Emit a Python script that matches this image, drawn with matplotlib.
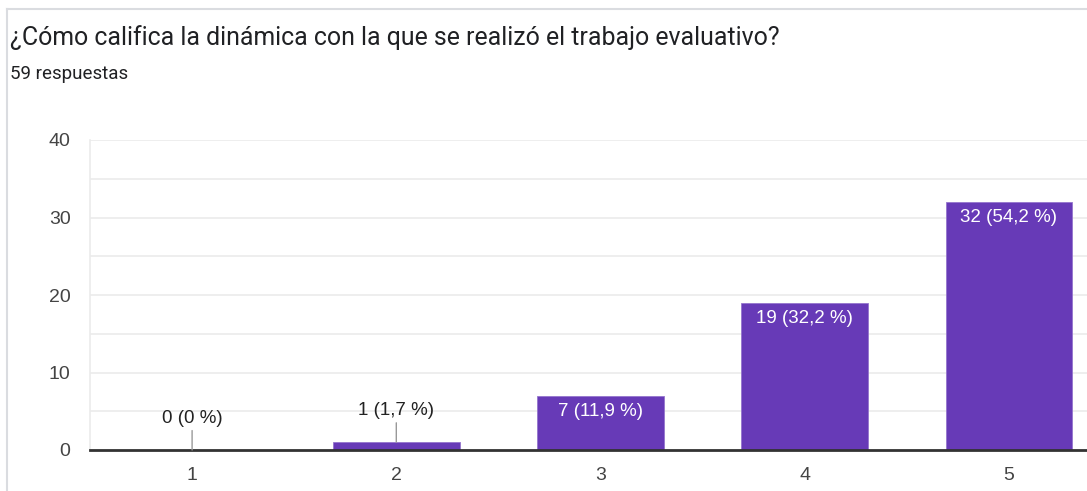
import matplotlib
matplotlib.use('Agg')
import matplotlib.pyplot as plt
from matplotlib.lines import Line2D

# datos de la encuesta
categorias = ['1', '2', '3', '4', '5']
respuestas = [0, 1, 7, 19, 32]
porcentajes = ['0 %', '1,7 %', '11,9 %', '32,2 %', '54,2 %']
titulo = '¿Cómo califica la dinámica con la que se realizó el trabajo evaluativo?'
subtitulo = '59 respuestas'

morado = '#673ab7'
W, H = 1087, 491
fig = plt.figure(figsize=(W / 100, H / 100), dpi=100)

# marco de la tarjeta
fig.add_artist(Line2D([7 / W, 7 / W], [0, 1 - 9 / H], color='#dadce0', lw=1.5))
fig.add_artist(Line2D([7 / W, 1], [1 - 9 / H, 1 - 9 / H], color='#dadce0', lw=1.5))

fig.text(10 / W, 1 - 38 / H, titulo, fontsize=17.9, family='Roboto', color='#202124', va='center')
fig.text(10 / W, 1 - 74 / H, subtitulo, fontsize=13.5, family='Roboto', color='#202124', va='center')

ax = fig.add_axes([90 / W, 41 / H, (1111 - 90) / W, 310 / H])
x = list(range(len(categorias)))
ax.bar(x, respuestas, width=0.62, color=morado, edgecolor='#9575cd', linewidth=0.6, zorder=3)

ax.set_xlim(-0.5, len(categorias) - 0.5)
ax.set_ylim(0, 40)
ax.set_yticks([0, 10, 20, 30, 40])
ax.set_yticks([5, 15, 25, 35], minor=True)
ax.set_xticks(x)
ax.set_xticklabels(categorias)
ax.grid(axis='y', which='both', color='#ebebeb', lw=1.2, zorder=0)
ax.tick_params(which='both', length=0)
ax.tick_params(axis='y', labelsize=14, labelcolor='#444444', pad=14)
ax.tick_params(axis='x', labelsize=14, labelcolor='#444444', pad=12)
for lab in ax.get_xticklabels() + ax.get_yticklabels():
    lab.set_family('Liberation Sans')
for s in ['top', 'right']:
    ax.spines[s].set_visible(False)
ax.spines['left'].set_color('#ebebeb')
ax.spines['left'].set_linewidth(1.2)
ax.spines['bottom'].set_color('#333333')
ax.spines['bottom'].set_linewidth(2)
ax.spines['bottom'].set_zorder(4)

for i, (v, p) in enumerate(zip(respuestas, porcentajes)):
    etiqueta = f'{v} ({p})'
    if v >= 5:
        ax.annotate(etiqueta, (i, v), xytext=(0, -11.5), textcoords='offset points',
                    ha='center', va='center', color='white', fontsize=13.5,
                    family='Liberation Sans', zorder=5)
    else:
        ax.annotate(etiqueta, (i, v), xytext=(0, 23), textcoords='offset points',
                    ha='center', va='center', color='#222222', fontsize=13.5,
                    family='Liberation Sans', zorder=5)
        ax.annotate('', (i, v), xytext=(0, 14), textcoords='offset points',
                    arrowprops=dict(arrowstyle='-', color='#999999', lw=1,
                                    shrinkA=0, shrinkB=0), zorder=5)

fig.savefig('out.png', dpi=100)
